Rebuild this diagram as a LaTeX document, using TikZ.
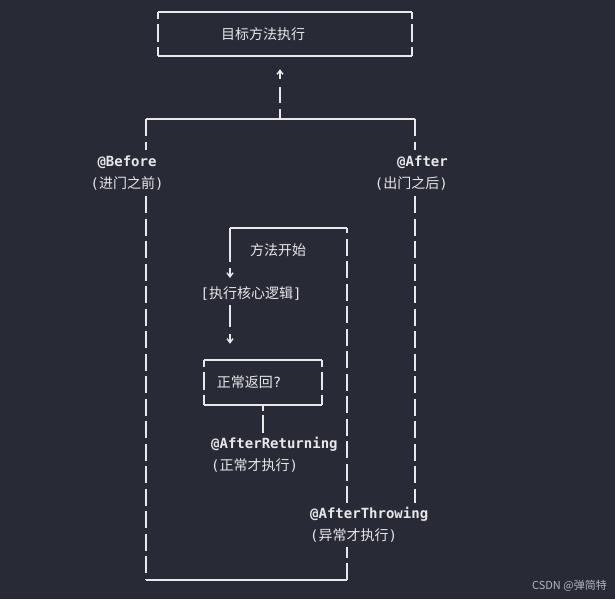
\documentclass[tikz,border=0pt]{standalone}
\usepackage{fontspec}
\usepackage{tikz}
\usetikzlibrary{positioning,arrows.meta,calc}
\newfontfamily\mono{DejaVu Sans Mono}
\newfontfamily\cjk{Noto Sans CJK SC}
\definecolor{canvas}{RGB}{40,42,54}
\definecolor{ink}{RGB}{232,232,232}
\definecolor{faint}{RGB}{180,182,190}

\begin{document}
\begin{tikzpicture}[x=1pt, y=-1pt,
  every node/.style={text=ink, inner sep=0pt, font=\mono\fontsize{14}{22}\selectfont},
  wire/.style={draw=ink, line width=1.6pt},
  pipe/.style={wire, dash pattern=on 17pt off 5.5pt},
  wall/.style={wire, dash pattern=on 7pt off 5pt on 18pt off 5pt on 30pt},
  frame/.style={rectangle, draw=none},
  note/.style={align=left},
  arr/.style={-{Straight Barb[length=4pt,width=6pt,line width=1.4pt]}}
]
  \fill[canvas] (0,0) rectangle (615,599);

  % boxes
  \node[frame, minimum width=254pt, minimum height=44pt,
        label={[xshift=-22pt]center:{\cjk 目标方法执行}}] (goal) at (285,34) {};
  \node[frame, minimum width=118pt, minimum height=45pt,
        label={[xshift=-14pt]center:{\cjk 正常返回}?}] (ret) at (263,382.5) {};

  % labels
  \node[align=center] (bef) at (127,173) {{\bfseries @Before}\\({\cjk 进门之前})};
  \node[align=right, anchor=east] (aft) at (448,173) {{\bfseries @After}\\({\cjk 出门之后})};
  \node[note, anchor=west] (thr) at (310,525) {{\bfseries @AfterThrowing}\\({\cjk 异常才执行})};
  \node[note, anchor=west] (rtn) at (211,455) {{\bfseries @AfterReturning}\\({\cjk 正常才执行})};
  \node (st) at (278,250) {\cjk 方法开始};
  \node (core) at (251,294) {[{\cjk 执行核心逻辑}]};

  \coordinate (jt) at (280,119);
  \coordinate (jl) at (146,119);
  \coordinate (jr) at (415,119);
  \coordinate (il) at (230,228);
  \coordinate (it) at (347,228);
  \coordinate (bl) at (146,580);
  \coordinate (br) at (347,580);

  \foreach \b in {goal,ret} {
    \draw[wire] (\b.north west) -- (\b.north east);
    \draw[wire] (\b.south west) -- (\b.south east);
    \draw[wall] (\b.north west) -- (\b.south west);
    \draw[wall] (\b.north east) -- (\b.south east);
  }

  \draw[wire] (jl) -- (jr);
  \draw[pipe, dash pattern=on 10pt off 6pt on 16pt off 8pt on 20pt, arr, shorten >=13pt] (jt) -- (jt |- goal.south);
  \draw[pipe] (jl) -- ($(jl |- bef.north)+(0,-6)$);
  \draw[pipe] ($(jl |- bef.south)+(0,6)$) -- (bl);
  \draw[wire] (bl) -- (br);
  \draw[pipe] (br) -- ($(br |- thr.south)+(0,4)$);
  \draw[pipe] ($(br |- thr.north)+(0,-4)$) -- (it);
  \draw[wire] (it) -- (il);
  \draw[pipe, dash pattern=on 34pt off 6pt, arr, shorten >=9pt] (il) -- (il |- core.north);
  \draw[pipe, dash pattern=on 22pt off 7pt, arr, shorten >=16pt] ($(il |- core.south)+(0,4)$) -- (il |- ret.north);
  \draw[pipe, dash pattern=on 6pt off 4pt on 30pt] (ret.south) -- ($(ret.south |- rtn.north)+(0,-4)$);
  \draw[pipe] (jr) -- ($(jr |- aft.north)+(0,-6)$);
  \draw[pipe] ($(jr |- aft.south)+(0,6)$) -- ($(jr |- thr.north)+(0,-4)$);

  \node[anchor=east, text=faint, font=\cjk\fontsize{11}{13}\selectfont] (wm) at (607,586) {CSDN @弹简特};
\end{tikzpicture}
\end{document}
